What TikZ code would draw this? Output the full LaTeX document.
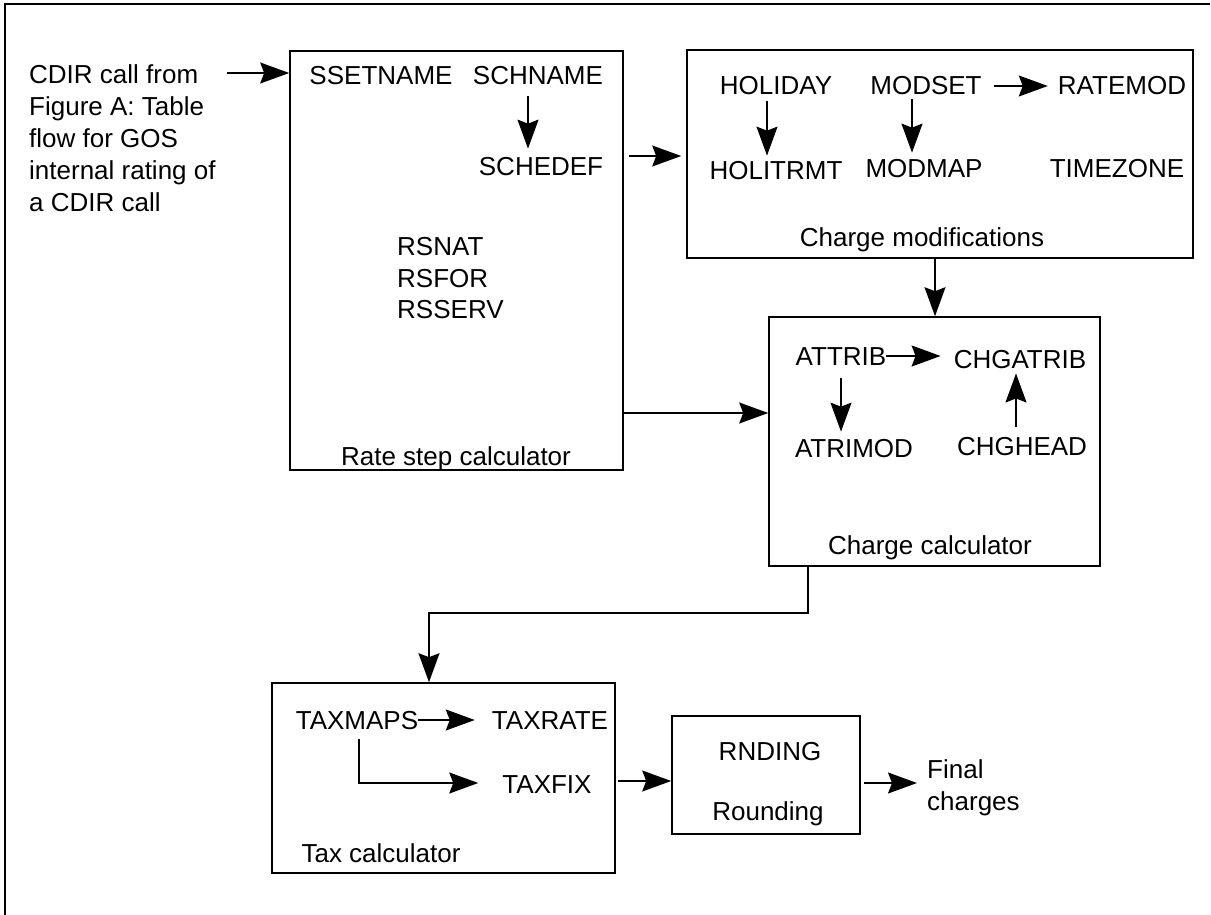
\documentclass[tikz,border=0pt]{standalone}
\usepackage{fontspec}
\setmainfont{Liberation Sans}
\usetikzlibrary{arrows.meta}
\begin{document}
\begin{tikzpicture}[x=1pt,y=-1pt,
  box/.style={draw, line width=1.6pt, inner sep=0pt},
  txt/.style={inner sep=0pt, anchor=base, font=\fontsize{26}{32}\selectfont},
  arr/.style={line width=1.5pt, -{Stealth[length=29pt,width=21pt,inset=4pt]}}]
\useasboundingbox (0,0) rectangle (1211,915);
% frame
\draw[line width=1.3pt] (5,915) -- (5,4) -- (1210,4);

% boxes
\node[box, minimum width=333pt, minimum height=419pt] (rs) at (456.5,260.5) {};
\node[box, minimum width=506pt, minimum height=208pt] (cm) at (940,154) {};
\node[box, minimum width=331pt, minimum height=249pt] (cc) at (934.5,441.5) {};
\node[box, minimum width=343pt, minimum height=190pt] (tc) at (443.5,778) {};
\node[box, minimum width=188pt, minimum height=118pt] (rd) at (766,775) {};

% left text
\node[inner sep=0pt, anchor=north west, align=left, font=\fontsize{26}{32}\selectfont] (intext) at (29,64)
  {CDIR call from\\Figure A: Table\\flow for GOS\\internal rating of\\a CDIR call};

% rate step calculator
\node[txt] (ssetname) at (381,85) {SSETNAME};
\node[txt] (schname) at (538,85) {SCHNAME};
\node[txt] (schedef) at (541,176) {SCHEDEF};
\node[txt, anchor=base west] (rsnat) at (397,255) {RSNAT};
\node[txt, anchor=base west] (rsfor) at (397,287) {RSFOR};
\node[txt, anchor=base west] (rsserv) at (397,318) {RSSERV};
\node[txt] (rslabel) at (456,465) {Rate step calculator};

% charge modifications
\node[txt] (holiday) at (776,95) {HOLIDAY};
\node[txt] (modset) at (926,95) {MODSET};
\node[txt] (ratemod) at (1122,95) {RATEMOD};
\node[txt] (holitrmt) at (776,180) {HOLITRMT};
\node[txt] (modmap) at (924,178) {MODMAP};
\node[txt] (timezone) at (1117,178) {TIMEZONE};
\node[txt] (cmlabel) at (922,247) {Charge modifications};

% charge calculator
\node[txt] (attrib) at (841,365) {ATTRIB};
\node[txt] (chgatrib) at (1020,368) {CHGATRIB};
\node[txt] (atrimod) at (854,457) {ATRIMOD};
\node[txt] (chghead) at (1022,455) {CHGHEAD};
\node[txt] (cclabel) at (930,554) {Charge calculator};

% tax calculator
\node[txt] (taxmaps) at (357,729) {TAXMAPS};
\node[txt] (taxrate) at (550,729) {TAXRATE};
\node[txt] (taxfix) at (547,793) {TAXFIX};
\node[txt] (tclabel) at (381,862) {Tax calculator};

% rounding
\node[txt] (rnding) at (770,760) {RNDING};
\node[txt] (rdlabel) at (768,820) {Rounding};
\node[inner sep=0pt, anchor=north west, align=left, font=\fontsize{26}{32}\selectfont] (final) at (927,759)
  {Final\\charges};

% connectors
\draw[arr] ([xshift=11pt]intext.east |- 0,73) -- (rs.west |- 0,73);
\draw[arr] ([yshift=-11pt]schname.south -| 528,0) -- ([yshift=9pt]schedef.north -| 528,0);
\draw[arr] ([xshift=5pt]rs.east |- 0,156) -- ([xshift=-5pt]cm.west |- 0,156);
\draw[arr] ([yshift=-6pt]holiday.south -| 767,0) -- ([yshift=6pt]holitrmt.north -| 767,0);
\draw[arr] ([yshift=-4pt]modset.south -| 912,0) -- ([yshift=7pt]modmap.north -| 912,0);
\draw[arr] ([xshift=12pt]modset.east |- 0,86) -- ([xshift=-10pt]ratemod.west |- 0,86);
\draw[arr] (cm.south -| 935,0) -- (cc.north -| 935,0);
\draw[arr] (attrib.east |- 0,356) -- ([xshift=-13pt]chgatrib.west |- 0,356);
\draw[arr] ([yshift=-13pt]attrib.south -| 841,0) -- ([yshift=7pt]atrimod.north -| 841,0);
\draw[arr] ([yshift=10pt]chghead.north -| 1016,0) -- ([yshift=-5pt]chgatrib.south -| 1016,0);
\draw[arr] (rs.east |- 0,413) -- (cc.west |- 0,413);
\draw[arr] (cc.south -| 808,0) -- ++(0,46) -| (tc.north -| 429,0);
\draw[arr] (taxmaps.east |- 0,720) -- ([xshift=-17pt]taxrate.west |- 0,720);
\draw[arr] ([yshift=-10pt]taxmaps.south -| 359,0) |- ([xshift=-24pt]taxfix.west |- 0,783);
\draw[arr] ([xshift=2pt]tc.east |- 0,781) -- (rd.west |- 0,781);
\draw[arr] ([xshift=3pt]rd.east |- 0,783) -- ([xshift=-10pt]final.west |- 0,783);
\end{tikzpicture}
\end{document}
